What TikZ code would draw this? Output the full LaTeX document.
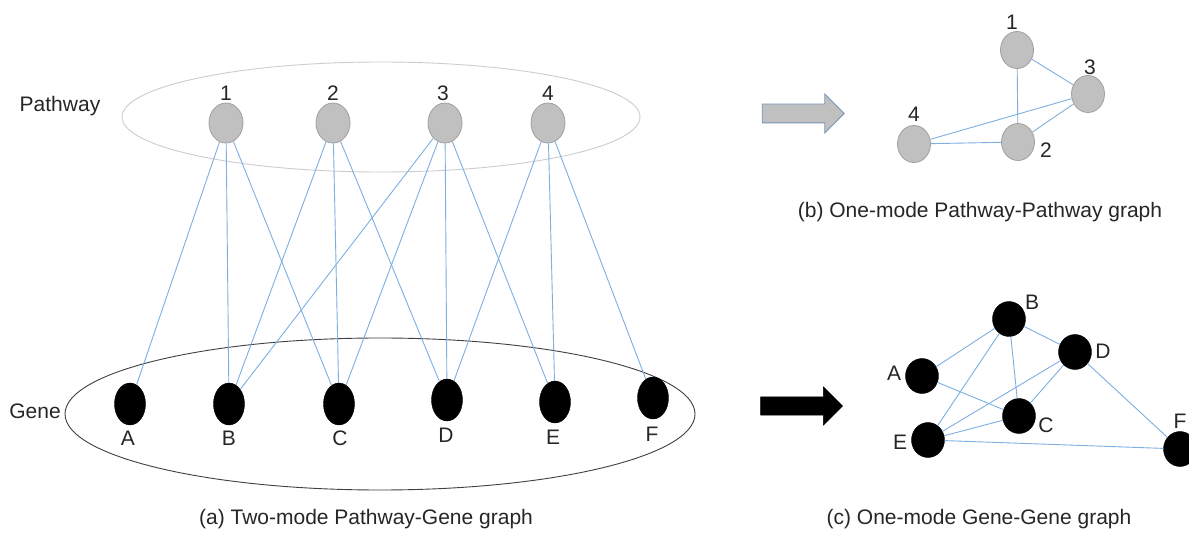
\documentclass[tikz,border=0pt]{standalone}
\usepackage{fontspec}
\setmainfont{Liberation Sans}
\usetikzlibrary{shapes.geometric,shapes.arrows}
\definecolor{edgeblue}{RGB}{125,175,225}
\definecolor{pgray}{RGB}{192,192,192}
\definecolor{pgrayline}{RGB}{160,160,160}
\definecolor{ringgray}{RGB}{205,205,205}
\definecolor{arrowline}{RGB}{120,150,185}
\tikzset{
  pnode/.style={ellipse,fill=pgray,draw=pgrayline,line width=0.8pt,minimum width=34pt,minimum height=40pt,inner sep=0pt},
  pnodeb/.style={pnode,minimum width=33pt,minimum height=37pt},
  gnode/.style={ellipse,fill=black,draw=black,minimum width=31pt,minimum height=42pt,inner sep=0pt},
  gnodeb/.style={ellipse,fill=black,draw=black,minimum width=33pt,minimum height=35pt,inner sep=0pt},
  lbl/.style={font=\fontsize{21}{23}\selectfont,inner sep=0pt,text=black!85},
  captext/.style={font=\fontsize{21}{23}\selectfont,inner sep=0pt,text=black!85},
  link/.style={draw=edgeblue,line width=0.9pt},
  fatarrow/.style={single arrow,minimum height=82pt,inner xsep=0pt,inner ysep=9pt,single arrow head extend=10pt,single arrow tip angle=90},
}
\begin{document}
\begin{tikzpicture}[x=1pt,y=-1pt]
\clip (0,0) rectangle (1189,534);
\fill[white] (0,0) rectangle (1189,534);
% (a) two-mode graph
\node[ellipse,draw=ringgray,line width=0.9pt,minimum width=518pt,minimum height=110pt] (pring) at (381,117) {};
\node[ellipse,draw=black!75,line width=0.9pt,minimum width=630pt,minimum height=152pt] (gring) at (380,414) {};
\node[lbl] (tpath) at (60,106) {Pathway};
\node[lbl] (tgene) at (35,411) {Gene};
\node[pnode] (p1) at (226,123) {};
\node[pnode] (p2) at (333,123) {};
\node[pnode] (p3) at (445,123) {};
\node[pnode] (p4) at (548,123) {};
\node[lbl] (lp1) at (226,93) {1};
\node[lbl] (lp2) at (333,93) {2};
\node[lbl] (lp3) at (443,93) {3};
\node[lbl] (lp4) at (548,93) {4};
\node[gnode] (gA) at (130,404) {};
\node[gnode] (gB) at (229,404) {};
\node[gnode] (gC) at (339,404) {};
\node[gnode] (gD) at (447,400) {};
\node[gnode] (gE) at (555,402) {};
\node[gnode] (gF) at (653,398) {};
\node[lbl] (lA) at (128,438) {A};
\node[lbl] (lB) at (229,438) {B};
\node[lbl] (lC) at (340,438) {C};
\node[lbl] (lD) at (446,435) {D};
\node[lbl] (lE) at (553,437) {E};
\node[lbl] (lF) at (652,434) {F};
\foreach \a/\b in {p1/gA,p1/gB,p1/gC,p2/gB,p2/gC,p2/gD,p3/gB,p3/gC,p3/gD,p3/gE,p4/gD,p4/gE,p4/gF}
  \draw[link] (\a) -- (\b);
\node[captext] (capa) at (366,519) {(a) Two-mode Pathway-Gene graph};
% arrows
\node[fatarrow,draw=arrowline,fill=pgray,line width=0.9pt] (arrb) at (798.5,113.5) {};
\node[fatarrow,draw=black,fill=black] (arrc) at (797,406) {};
% (b) pathway graph
\node[pnodeb] (q1) at (1017,50) {};
\node[pnodeb] (q3) at (1088,94) {};
\node[pnodeb] (q4) at (914,144) {};
\node[pnodeb] (q2) at (1018,142) {};
\node[lbl] (lq1) at (1012,22) {1};
\node[lbl] (lq3) at (1090,67) {3};
\node[lbl] (lq4) at (914,114) {4};
\node[lbl] (lq2) at (1046,150) {2};
\foreach \a/\b in {q1/q3,q1/q2,q4/q3,q4/q2,q2/q3}
  \draw[link] (\a) -- (\b);
\node[captext] (capb) at (980,212) {(b) One-mode Pathway-Pathway graph};
% (c) gene graph
\node[gnodeb] (hB) at (1009,319) {};
\node[gnodeb] (hD) at (1075,352) {};
\node[gnodeb] (hA) at (922,376) {};
\node[gnodeb] (hC) at (1019,416) {};
\node[gnodeb] (hE) at (928,440) {};
\node[gnodeb] (hF) at (1180,449) {};
\node[lbl] (lhB) at (1032,302) {B};
\node[lbl] (lhD) at (1103,351) {D};
\node[lbl] (lhA) at (894,373) {A};
\node[lbl] (lhC) at (1046,425) {C};
\node[lbl] (lhE) at (900,442) {E};
\node[lbl] (lhF) at (1180,421) {F};
\foreach \a/\b in {hA/hB,hA/hC,hB/hC,hB/hD,hB/hE,hC/hD,hC/hE,hD/hE,hD/hF,hE/hF}
  \draw[link] (\a) -- (\b);
\node[captext] (capc) at (979,519) {(c) One-mode Gene-Gene graph};
\end{tikzpicture}
\end{document}
